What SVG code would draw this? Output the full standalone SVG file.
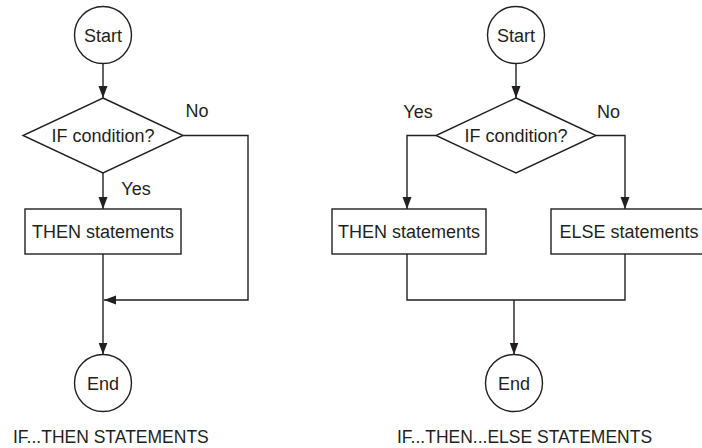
<svg xmlns="http://www.w3.org/2000/svg" width="702" height="448" viewBox="0 0 702 448">
  <defs>
    <marker id="arr" markerUnits="userSpaceOnUse" markerWidth="12" markerHeight="10" refX="12" refY="4.5" orient="auto">
      <path d="M0,0 L12,4.5 L0,9 Z" fill="#231f20"/>
    </marker>
    <style>
      .shape { fill: #fff; stroke: #231f20; stroke-width: 1.4; }
      .conn { fill: none; stroke: #231f20; stroke-width: 1.4; }
      .arrow { marker-end: url(#arr); }
      text { font-family: "Liberation Sans", Arial, sans-serif; fill: #231f20; }
      .lbl { font-size: 18px; text-anchor: middle; }
      .cap { font-size: 17.5px; }
    </style>
  </defs>
  <rect width="702" height="448" fill="#fff"/>

  <g id="connectors">
    <path class="conn arrow" d="M103,63.5 L103,98"/>
    <path class="conn arrow" d="M103,173 L103,209"/>
    <path class="conn arrow" d="M103,254 L103,354.5"/>
    <path class="conn arrow" d="M183,135.5 L248,135.5 L248,300 L104,300"/>

    <path class="conn arrow" d="M516,63.5 L516,98"/>
    <path class="conn arrow" d="M436,135.5 L407,135.5 L407,209"/>
    <path class="conn arrow" d="M596,135.5 L625,135.5 L625,209"/>
    <path class="conn" d="M407,254 L407,300 L625,300 L625,254"/>
    <path class="conn arrow" d="M514,300 L514,354.5"/>

    <text class="lbl" x="197" y="117">No</text>
    <text class="lbl" x="136" y="195">Yes</text>
    <text class="lbl" x="418" y="118">Yes</text>
    <text class="lbl" x="608.5" y="118">No</text>
  </g>

  <g id="l-start">
    <circle class="shape" cx="103" cy="35" r="28.5"/>
    <text class="lbl" x="103" y="41.5">Start</text>
  </g>
  <g id="l-cond">
    <polygon class="shape" points="103,98 183,135.5 103,173 23,135.5"/>
    <text class="lbl" x="103" y="142">IF condition?</text>
  </g>
  <g id="l-then">
    <rect class="shape" x="25" y="209" width="156" height="45"/>
    <text class="lbl" x="103" y="238">THEN statements</text>
  </g>
  <g id="l-end">
    <circle class="shape" cx="103" cy="383" r="28.5"/>
    <text class="lbl" x="103" y="389.5">End</text>
  </g>
  <g id="l-caption">
    <text class="cap" x="13" y="443">IF...THEN STATEMENTS</text>
  </g>

  <g id="r-start">
    <circle class="shape" cx="516" cy="35" r="28.5"/>
    <text class="lbl" x="516" y="41.5">Start</text>
  </g>
  <g id="r-cond">
    <polygon class="shape" points="516,98 596,135.5 516,173 436,135.5"/>
    <text class="lbl" x="516" y="142">IF condition?</text>
  </g>
  <g id="r-then">
    <rect class="shape" x="332" y="209" width="154" height="45"/>
    <text class="lbl" x="409" y="238">THEN statements</text>
  </g>
  <g id="r-else">
    <rect class="shape" x="551" y="209" width="153" height="45"/>
    <text class="lbl" x="629" y="238">ELSE statements</text>
  </g>
  <g id="r-end">
    <circle class="shape" cx="514" cy="383" r="28.5"/>
    <text class="lbl" x="514" y="389.5">End</text>
  </g>
  <g id="r-caption">
    <text class="cap" x="397" y="443">IF...THEN...ELSE STATEMENTS</text>
  </g>
</svg>
